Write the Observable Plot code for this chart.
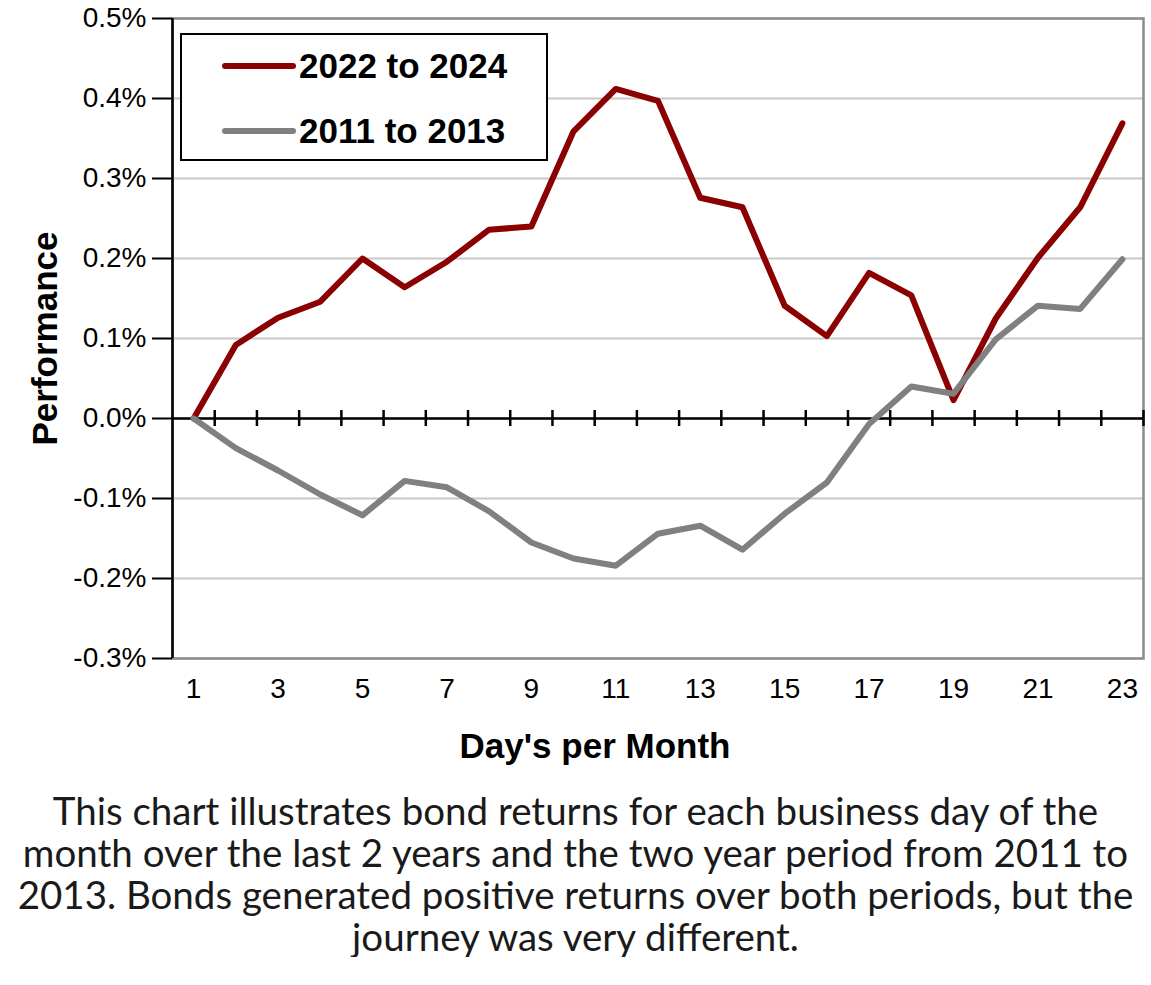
<!DOCTYPE html>
<html>
<head>
<meta charset="utf-8">
<script src="https://cdn.jsdelivr.net/npm/d3@7"></script>
<script src="https://cdn.jsdelivr.net/npm/@observablehq/plot@0.6"></script>
<style>
  html, body { margin: 0; padding: 0; background: #fff; }
  #wrap { position: relative; width: 1151px; }
  #legend { position: absolute; left: 180px; top: 33px; width: 364px; height: 124px;
    border: 2.5px solid #000; background: #fff; font-family: "Liberation Sans", Arial, sans-serif;
    font-weight: bold; font-size: 35px; color: #000; }
  .row { position: absolute; left: 40px; display: flex; align-items: center; }
  .sw { width: 74px; height: 6px; border-radius: 3px; margin-right: 3px; }
  #caption { font-family: Lato, "Open Sans", sans-serif; font-size: 38.5px; line-height: 42px;
    text-align: center; color: #1a1a1a; margin-top: 9px; white-space: nowrap; }
</style>
</head>
<body>
<div id="wrap">
  <div id="chart"></div>
  <div id="legend"></div>
  <div id="caption"></div>
</div>
<script>
const days = d3.range(1, 24);
const series = ["2022 to 2024", "2011 to 2013"];
const colors = ["#8b0000", "#808080"];
const recent = [0, 0.092, 0.126, 0.146, 0.200, 0.164, 0.196, 0.236, 0.240, 0.359, 0.412, 0.397,
  0.276, 0.264, 0.141, 0.103, 0.182, 0.154, 0.023, 0.125, 0.201, 0.264, 0.369];
const older = [0, -0.037, -0.065, -0.095, -0.121, -0.078, -0.086, -0.116, -0.155, -0.175, -0.184, -0.144,
  -0.134, -0.164, -0.119, -0.080, -0.007, 0.040, 0.031, 0.099, 0.141, 0.137, 0.199];
const yTicks = [-0.3, -0.2, -0.1, 0, 0.1, 0.2, 0.3, 0.4, 0.5];
const xTicks = [1, 3, 5, 7, 9, 11, 13, 15, 17, 19, 21, 23];
const captionLines = [
  "This chart illustrates bond returns for each business day of the",
  "month over the last 2 years and the two year period from 2011 to",
  "2013. Bonds generated positive returns over both periods, but the",
  "journey was very different."
];
const xLabel = "Day's per Month";
const yLabel = "Performance";

const data = [];
days.forEach((d, i) => data.push({day: d, value: recent[i], series: series[0]}));
days.forEach((d, i) => data.push({day: d, value: older[i], series: series[1]}));
const boundaries = d3.range(1.5, 24, 1);

const chart = Plot.plot({
  width: 1151,
  height: 780,
  marginLeft: 172,
  marginRight: 8,
  marginTop: 18,
  marginBottom: 122,
  style: {fontFamily: "'Liberation Sans', Arial, sans-serif", fontSize: "28px", color: "#000", background: "#fff"},
  x: {domain: [0.5, 23.5], label: null},
  y: {domain: [-0.3, 0.5], label: null},
  color: {domain: series, range: colors},
  marks: [
    Plot.gridY(yTicks, {stroke: "#c8c8c8", strokeOpacity: 1, strokeWidth: 2}),
    Plot.frame({stroke: "#8c8c8c", strokeWidth: 2.5}),
    Plot.axisX({ticks: xTicks, tickFormat: d => String(d), tickSize: 0, tickPadding: 20, fontSize: 28}),
    Plot.axisY({ticks: yTicks, tickFormat: d => d.toFixed(1) + "%", tickSize: 20, tickPadding: 6, stroke: "#000", strokeWidth: 2, fontSize: 28}),
    Plot.ruleX([0.5], {stroke: "#000", strokeWidth: 2.5}),
    Plot.ruleY([0], {stroke: "#000", strokeWidth: 2.5}),
    Plot.ruleX(boundaries, {y1: -0.01, y2: 0.01, stroke: "#000", strokeWidth: 2.5}),
    Plot.line(data.filter(d => d.series === series[0]), {x: "day", y: "value", stroke: "series", strokeWidth: 6}),
    Plot.line(data.filter(d => d.series === series[1]), {x: "day", y: "value", stroke: "series", strokeWidth: 6}),
    Plot.text([xLabel], {frameAnchor: "bottom", textAnchor: "middle", dy: 99, dx: -63, fontWeight: "bold", fontSize: 35, fill: "#000"}),
    Plot.text([yLabel], {frameAnchor: "left", textAnchor: "middle", dx: -127, rotate: -90, fontWeight: "bold", fontSize: 35, fill: "#000"})
  ]
});
document.getElementById("chart").appendChild(chart);

const legend = document.getElementById("legend");
series.forEach((s, i) => {
  const row = document.createElement("div");
  row.className = "row";
  row.style.top = (i === 0 ? 11 : 76) + "px";
  const sw = document.createElement("div");
  sw.className = "sw";
  sw.style.background = colors[i];
  const t = document.createElement("span");
  t.textContent = s;
  row.appendChild(sw);
  row.appendChild(t);
  legend.appendChild(row);
});

document.getElementById("caption").innerHTML = captionLines.map(l => `<div>${l}</div>`).join("");
</script>
</body>
</html>
